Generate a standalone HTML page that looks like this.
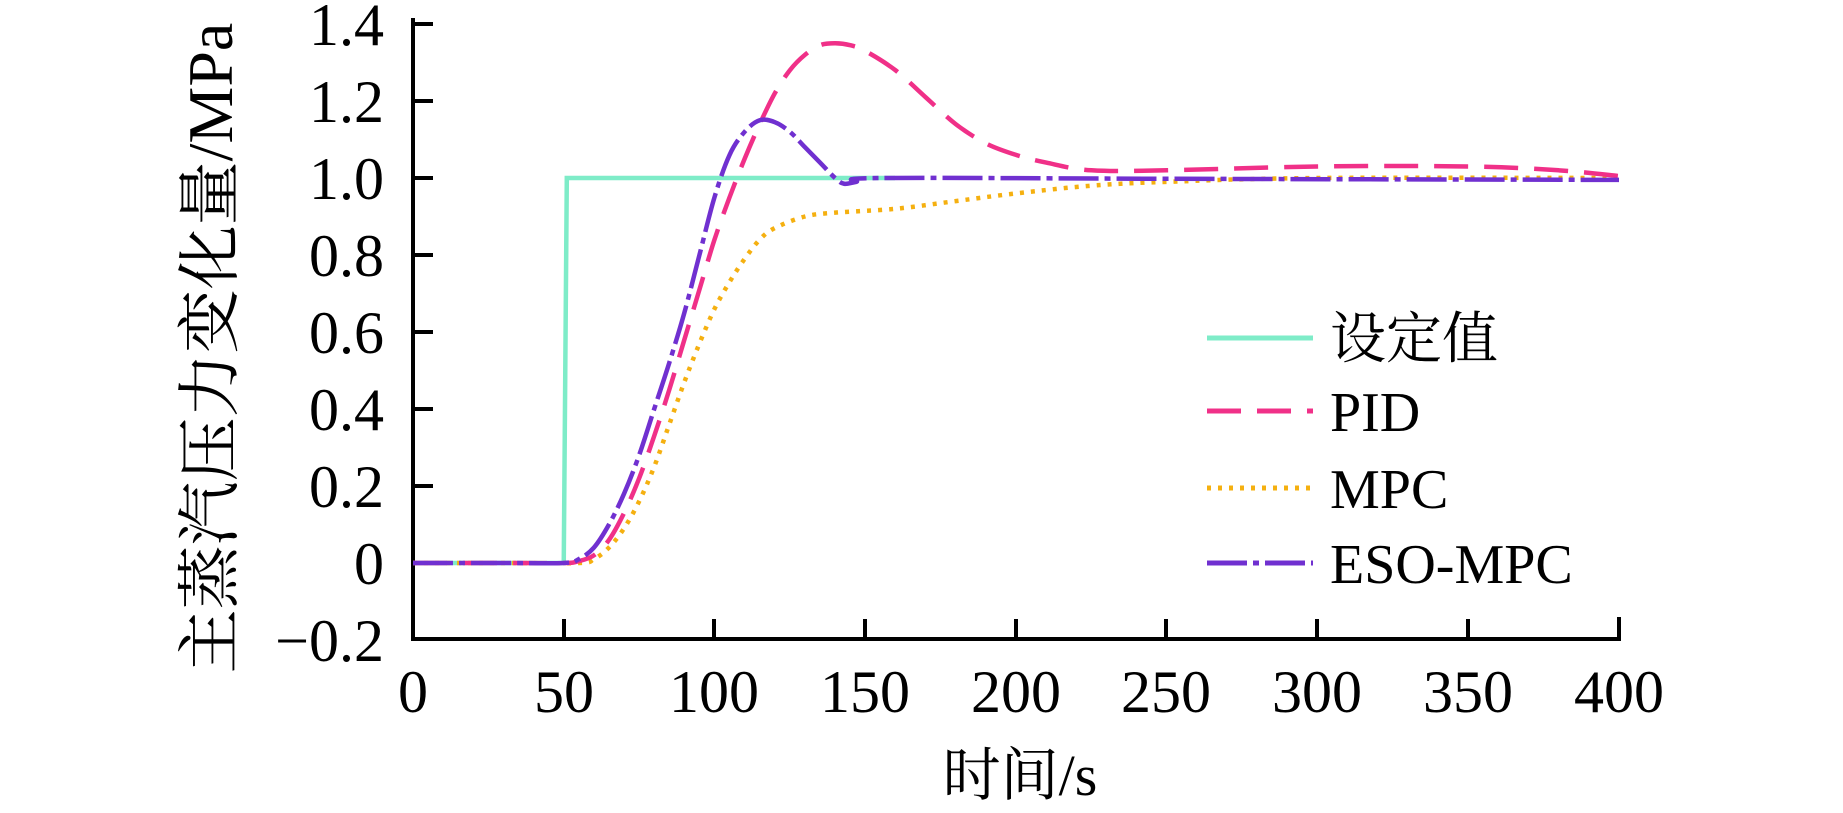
<!DOCTYPE html>
<html><head><meta charset="utf-8"><style>
html,body{margin:0;padding:0;background:#fff;}
svg{display:block;}
text{font-family:"Liberation Serif","Noto Serif CJK SC",serif;fill:#000;}
</style></head><body>
<svg id="s" width="1843" height="813" viewBox="0 0 1843 813" xmlns="http://www.w3.org/2000/svg">
<g stroke="#000" stroke-width="4" fill="none">
<line x1="413" y1="18" x2="413" y2="641"/>
<line x1="411" y1="639" x2="1621" y2="639"/>
<line x1="413" y1="24" x2="433" y2="24"/>
<line x1="413" y1="101" x2="433" y2="101"/>
<line x1="413" y1="178" x2="433" y2="178"/>
<line x1="413" y1="255" x2="433" y2="255"/>
<line x1="413" y1="332" x2="433" y2="332"/>
<line x1="413" y1="409" x2="433" y2="409"/>
<line x1="413" y1="486" x2="433" y2="486"/>
<line x1="413" y1="563" x2="433" y2="563"/>
<line x1="564" y1="639" x2="564" y2="619"/>
<line x1="714" y1="639" x2="714" y2="619"/>
<line x1="865" y1="639" x2="865" y2="619"/>
<line x1="1016" y1="639" x2="1016" y2="619"/>
<line x1="1166" y1="639" x2="1166" y2="619"/>
<line x1="1317" y1="639" x2="1317" y2="619"/>
<line x1="1468" y1="639" x2="1468" y2="619"/>
<line x1="1619" y1="639" x2="1619" y2="617"/>
</g>
<g font-size="60" text-anchor="end">
<text x="384" y="45">1.4</text>
<text x="384" y="122">1.2</text>
<text x="384" y="199">1.0</text>
<text x="384" y="276">0.8</text>
<text x="384" y="353">0.6</text>
<text x="384" y="430">0.4</text>
<text x="384" y="507">0.2</text>
<text x="384" y="584">0</text>
<text x="384" y="661">−0.2</text>
</g>
<g font-size="60" text-anchor="middle">
<text x="413" y="712">0</text>
<text x="564" y="712">50</text>
<text x="714" y="712">100</text>
<text x="865" y="712">150</text>
<text x="1016" y="712">200</text>
<text x="1166" y="712">250</text>
<text x="1317" y="712">300</text>
<text x="1468" y="712">350</text>
<text x="1619" y="712">400</text>
<text x="1020" y="795" font-size="58">时间/s</text>
<text transform="translate(232,348) rotate(-90)" font-size="64">主蒸汽压力变化量/MPa</text>
</g>
<polyline points="413,563 563.75,563 566.8,178 895,178" fill="none" stroke="#7eecc8" stroke-width="4.5"/>
<g id="curves" fill="none" stroke-width="4.5"></g>
<g stroke-width="5" fill="none">
<line x1="1207" y1="338" x2="1313" y2="338" stroke="#7eecc8"/>
<line x1="1207" y1="411" x2="1313" y2="411" stroke="#f03088" stroke-dasharray="34,16"/>
<line x1="1207" y1="488" x2="1313" y2="488" stroke="#f5b010" stroke-dasharray="4,7"/>
<line x1="1207" y1="563" x2="1313" y2="563" stroke="#7030d0" stroke-dasharray="40,6,6,6"/>
</g>
<g font-size="56">
<text x="1330" y="358">设定值</text>
<text x="1330" y="431">PID</text>
<text x="1330" y="508">MPC</text>
<text x="1330" y="583">ESO-MPC</text>
</g>
</svg>
<script>
function X(t){return 413+3.015*t;}
function Y(v){return 563-385*v;}
function path(pts){
  var P=pts.map(function(p){return [X(p[0]),Y(p[1])];});
  var d="M"+P[0][0]+","+P[0][1];
  for(var i=0;i<P.length-1;i++){
    var p0=P[i-1]||P[i],p1=P[i],p2=P[i+1],p3=P[i+2]||P[i+1];
    var c1=[p1[0]+(p2[0]-p0[0])/6,p1[1]+(p2[1]-p0[1])/6];
    var c2=[p2[0]-(p3[0]-p1[0])/6,p2[1]-(p3[1]-p1[1])/6];
    d+=" C"+c1[0]+","+c1[1]+" "+c2[0]+","+c2[1]+" "+p2[0]+","+p2[1];
  }
  return d;
}
var g=document.getElementById("curves");
function add(pts,color,dash){
  var p=document.createElementNS("http://www.w3.org/2000/svg","path");
  p.setAttribute("d",path(pts));p.setAttribute("stroke",color);
  if(dash)p.setAttribute("stroke-dasharray",dash);
  g.appendChild(p);
}
add([[0,0],[30,0],[55,0],[60,0.01],[65,0.04],[70,0.09],[75,0.16],[80,0.25],[85,0.36],[90,0.47],[95,0.57],[100,0.66],[105,0.73],[110,0.79],[115,0.84],[120,0.87],[130,0.9],[140,0.91],[160,0.92],[180,0.94],[200,0.96],[225,0.98],[250,0.99],[300,1.0],[400,1.0]],"#f5b010","4,7");
add([[0,0],[30,0],[50,0],[55,0.005],[60,0.02],[65,0.06],[70,0.13],[75,0.22],[80,0.33],[85,0.45],[90,0.58],[95,0.71],[100,0.84],[105,0.95],[110,1.05],[115,1.14],[120,1.22],[125,1.28],[130,1.32],[135,1.345],[140,1.35],[145,1.345],[150,1.33],[160,1.28],[170,1.21],[180,1.14],[190,1.09],[200,1.06],[210,1.04],[225,1.02],[250,1.02],[300,1.03],[350,1.03],[380,1.02],[400,1.005]],"#f03088","34,16");
add([[0,0],[30,0],[50,0],[55,0.01],[60,0.04],[65,0.1],[70,0.18],[75,0.28],[80,0.4],[85,0.52],[90,0.65],[95,0.8],[100,0.95],[105,1.06],[110,1.12],[115,1.15],[120,1.145],[125,1.12],[130,1.08],[135,1.04],[140,1.0],[143,0.985],[147,0.99],[155,1.0],[250,0.998],[400,0.995]],"#7030d0","40,6,6,6");
</script>
</body></html>
